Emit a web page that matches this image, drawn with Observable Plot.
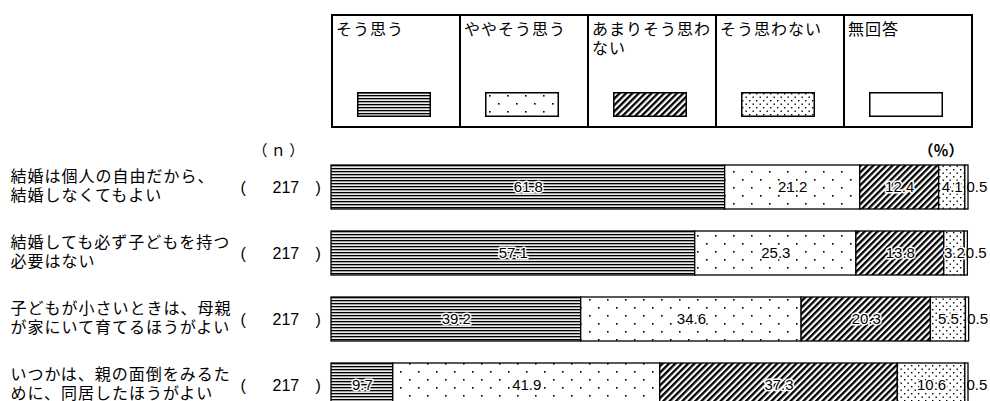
<!DOCTYPE html>
<html><head><meta charset="utf-8">
<script src="https://cdn.jsdelivr.net/npm/d3@7"></script>
<script src="https://cdn.jsdelivr.net/npm/@observablehq/plot@0.6"></script>
<style>
body{margin:0;background:#fff;font-family:"Noto Sans CJK JP",sans-serif;}
#wrap{position:relative;width:990px;height:401px;overflow:hidden;}
#legend{position:absolute;left:331px;top:14px;width:642px;height:114px;display:flex;border:2px solid #000;box-sizing:border-box;}
.cell{flex:1;border-right:2px solid #000;position:relative;font-size:16px;line-height:19px;letter-spacing:1px;padding:3px 0 0 3px;box-sizing:border-box;color:#000;}
.cell:last-child{border-right:none;}
.cell svg{position:absolute;left:24px;top:76px;}
#chart{position:absolute;left:0;top:0;}
#chart g[font-size="16"][font-family^="Noto"] text{letter-spacing:1px;}
</style></head><body>
<svg width="0" height="0" style="position:absolute">
<defs>
<pattern id="p0" patternUnits="userSpaceOnUse" width="4" height="3">
<rect width="4" height="3" fill="#fff"/><rect y="0" width="4" height="1.2" fill="#000"/><rect y="1.2" width="4" height="1" fill="#999"/>
</pattern>
<pattern id="p1" patternUnits="userSpaceOnUse" width="18" height="16">
<rect width="18" height="16" fill="#fff"/><rect x="4" y="3" width="1.6" height="1.6" fill="#000"/><rect x="13" y="11" width="1.6" height="1.6" fill="#000"/>
</pattern>
<pattern id="p2" patternUnits="userSpaceOnUse" width="4.5" height="4.5" patternTransform="rotate(45)">
<rect width="4.5" height="4.5" fill="#fff"/><rect width="2.3" height="4.5" fill="#000"/>
</pattern>
<pattern id="p3" patternUnits="userSpaceOnUse" width="7" height="7">
<rect width="7" height="7" fill="#fff"/><rect x="1" y="1" width="1.4" height="1.4" fill="#000"/><rect x="4.5" y="4.5" width="1.4" height="1.4" fill="#000"/>
</pattern>
<pattern id="p4" patternUnits="userSpaceOnUse" width="4" height="4">
<rect width="4" height="4" fill="#fff"/>
</pattern>
</defs>
</svg>
<div id="wrap"><div id="chart"></div><div id="legend"></div></div>
<script>
const questions = [
  "結婚は個人の自由だから、\n結婚しなくてもよい",
  "結婚しても必ず子どもを持つ\n必要はない",
  "子どもが小さいときは、母親\nが家にいて育てるほうがよい",
  "いつかは、親の面倒をみるた\nめに、同居したほうがよい"
];
const categories = ["そう思う", "ややそう思う", "あまりそう思わない", "そう思わない", "無回答"];
const nValues = [217, 217, 217, 217];
const soOmou   = [61.8, 57.1, 39.2, 9.7];
const yayaSoOmou = [21.2, 25.3, 34.6, 41.9];
const amariSoOmowanai = [12.4, 13.8, 20.3, 37.3];
const soOmowanai = [4.1, 3.2, 5.5, 10.6];
const mukaito  = [0.5, 0.5, 0.5, 0.5];
const series = [soOmou, yayaSoOmou, amariSoOmowanai, soOmowanai, mukaito];
const patterns = ["url(#p0)", "url(#p1)", "url(#p2)", "url(#p3)", "url(#p4)"];

const rows = [];
questions.forEach((q, i) => series.forEach((s, j) => rows.push({q, cat: categories[j], value: s[i]})));
const totals = questions.map((q, i) => ({q, n: nValues[i], last: mukaito[i], total: d3.sum(series, s => s[i])}));

const numFont = "Liberation Sans, Arial, sans-serif";
const jpFont = "Noto Sans CJK JP, sans-serif";

const chart = Plot.plot({
  width: 990, height: 401, margin: 0,
  style: {background: "transparent", overflow: "visible"},
  x: {domain: [0, 100], range: [331, 968], axis: null},
  y: {domain: questions, range: [163, 409], paddingInner: 0.328, paddingOuter: 0, axis: null},
  color: {type: "ordinal", domain: categories, range: patterns},
  marks: [
    Plot.barX(rows, Plot.stackX({x: "value", y: "q", fill: "cat", order: null, stroke: "#000", strokeWidth: 1.3})),
    Plot.text(rows, Plot.stackX({x: "value", y: "q", z: "cat", order: null,
      text: d => d.cat === "無回答" ? "" : d.value.toFixed(1),
      fill: "#000", stroke: "#fff", strokeWidth: 3, fontSize: 15, fontFamily: numFont})),
    Plot.text(totals, {x: "total", y: "q", text: d => d.last.toFixed(1), textAnchor: "start", dx: -2,
      fill: "#000", fontSize: 15, fontFamily: numFont}),
    Plot.text(totals, {y: "q", text: d => d.q, frameAnchor: "left", textAnchor: "start", dx: 10, dy: -2,
      lineHeight: 1.15, fontSize: 16, fontFamily: jpFont, fill: "#000"}),
    Plot.text(totals, {y: "q", text: () => "(", frameAnchor: "left", dx: 240, fontSize: 16, fontFamily: numFont, fill: "#000"}),
    Plot.text(totals, {y: "q", text: d => String(d.n), frameAnchor: "left", dx: 272, fontSize: 16, fontFamily: numFont, fill: "#000"}),
    Plot.text(totals, {y: "q", text: () => ")", frameAnchor: "left", dx: 315, fontSize: 16, fontFamily: numFont, fill: "#000"}),
    Plot.text(["（ ｎ ）"], {frameAnchor: "top-left", dx: 252, dy: 145, textAnchor: "start", fontSize: 15, fontFamily: jpFont, fill: "#000"}),
    Plot.text(["（％）"], {frameAnchor: "top-left", dx: 918, dy: 145, textAnchor: "start", fontSize: 15, fontFamily: jpFont, fill: "#000", fontWeight: "bold"})
  ]
});
document.getElementById("chart").appendChild(chart);

const legend = document.getElementById("legend");
categories.forEach((c, j) => {
  const cell = document.createElement("div");
  cell.className = "cell";
  cell.textContent = c;
  const sw = document.createElementNS("http://www.w3.org/2000/svg", "svg");
  sw.setAttribute("width", 74); sw.setAttribute("height", 25);
  sw.innerHTML = `<rect x="0.75" y="0.75" width="72.5" height="23.5" fill="${patterns[j]}" stroke="#000" stroke-width="1.5"/>`;
  cell.appendChild(sw);
  legend.appendChild(cell);
});
</script>
</body></html>
